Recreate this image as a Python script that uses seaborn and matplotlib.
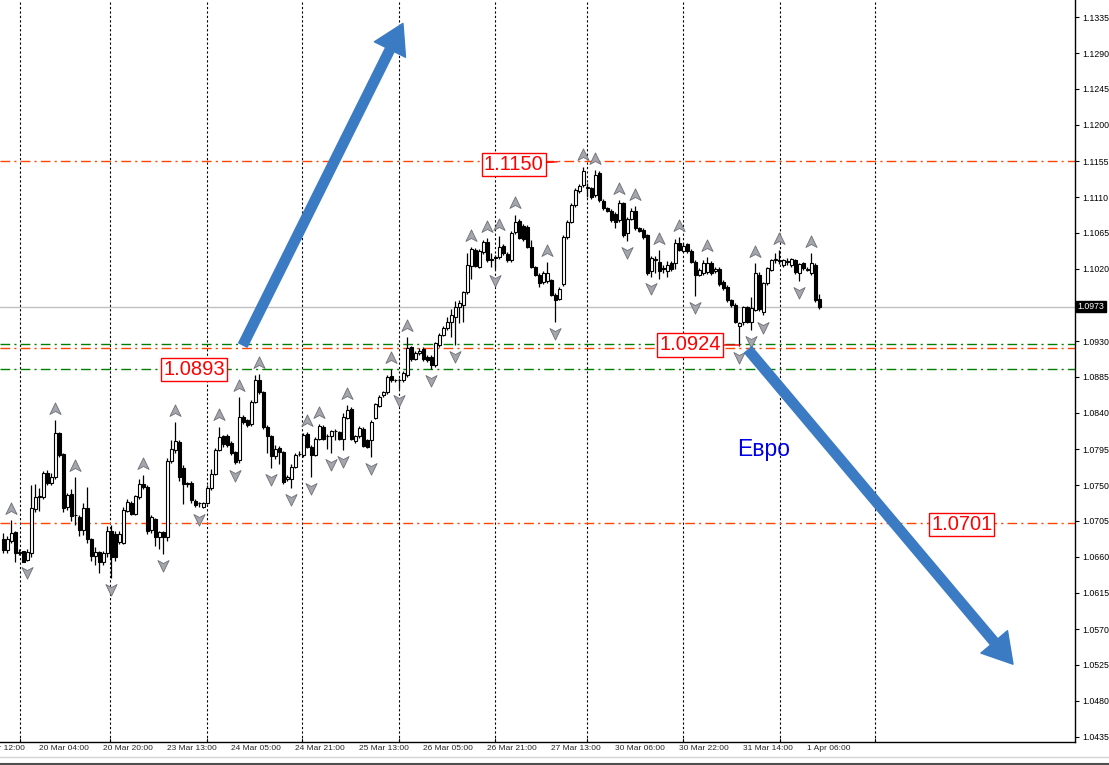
import numpy as np
import pandas as pd
import seaborn as sns
import matplotlib.pyplot as plt
from matplotlib.path import Path
from matplotlib import transforms
from matplotlib.lines import Line2D

# EURUSD H1 candles (bar 0 = left edge of the chart)
opens = [
    1.0683, 1.0669, 1.0680, 1.0691, 1.0665, 1.0667, 1.0656, 1.0665, 1.0720, 1.0735,
    1.0735, 1.0765, 1.0753, 1.0760, 1.0815, 1.0789, 1.0722, 1.0739, 1.0712, 1.0710,
    1.0694, 1.0721, 1.0682, 1.0661, 1.0666, 1.0654, 1.0665, 1.0693, 1.0689, 1.0679,
    1.0678, 1.0718, 1.0728, 1.0714, 1.0735, 1.0751, 1.0748, 1.0694, 1.0707, 1.0685,
    1.0691, 1.0685, 1.0780, 1.0794, 1.0804, 1.0771, 1.0751, 1.0753, 1.0730, 1.0727,
    1.0723, 1.0728, 1.0746, 1.0764, 1.0794, 1.0811, 1.0811, 1.0802, 1.0791, 1.0781,
    1.0835, 1.0831, 1.0826, 1.0854, 1.0881, 1.0866, 1.0823, 1.0811, 1.0786, 1.0796,
    1.0791, 1.0757, 1.0758, 1.0773, 1.0789, 1.0787, 1.0814, 1.0798, 1.0788, 1.0808,
    1.0823, 1.0811, 1.0811, 1.0817, 1.0816, 1.0808, 1.0834, 1.0845, 1.0805, 1.0811,
    1.0820, 1.0806, 1.0806, 1.0834, 1.0849, 1.0862, 1.0866, 1.0886, 1.0881, 1.0881,
    1.0881, 1.0887, 1.0922, 1.0908, 1.0915, 1.0920, 1.0910, 1.0910, 1.0900, 1.0925,
    1.0938, 1.0946, 1.0954, 1.0960, 1.0973, 1.0975, 1.0991, 1.1024, 1.1044, 1.1023,
    1.1041, 1.1054, 1.1031, 1.1035, 1.1035, 1.1049, 1.1039, 1.1031, 1.1066, 1.1080,
    1.1074, 1.1073, 1.1048, 1.1022, 1.1013, 1.1004, 1.1005, 1.1006, 1.0988, 1.0983,
    1.1001, 1.1060, 1.1079, 1.1100, 1.1117, 1.1125, 1.1121, 1.1121, 1.1112, 1.1140,
    1.1105, 1.1096, 1.1093, 1.1089, 1.1081, 1.1102, 1.1065, 1.1083, 1.1092, 1.1071,
    1.1069, 1.1062, 1.1017, 1.1031, 1.1029, 1.1021, 1.1018, 1.1028, 1.1027, 1.1053,
    1.1043, 1.1051, 1.1043, 1.1029, 1.1013, 1.1015, 1.1016, 1.1028, 1.1017, 1.1020,
    1.1004, 1.0998, 1.0981, 1.0975, 1.0949, 1.0954, 1.0972, 1.0954, 1.0969, 1.1013,
    1.0966, 1.1002, 1.1019, 1.1031, 1.1031, 1.1025, 1.1029, 1.1025, 1.1031, 1.1015,
    1.1027, 1.1019, 1.1015, 1.1025, 1.0983,
]
highs = [
    1.0690, 1.0686, 1.0706, 1.0693, 1.0670, 1.0668, 1.0670, 1.0750, 1.0751, 1.0746,
    1.0768, 1.0769, 1.0765, 1.0831, 1.0816, 1.0790, 1.0740, 1.0745, 1.0760, 1.0712,
    1.0728, 1.0748, 1.0684, 1.0672, 1.0668, 1.0668, 1.0699, 1.0700, 1.0692, 1.0692,
    1.0722, 1.0732, 1.0730, 1.0738, 1.0757, 1.0762, 1.0750, 1.0713, 1.0709, 1.0693,
    1.0693, 1.0784, 1.0806, 1.0829, 1.0806, 1.0775, 1.0754, 1.0755, 1.0733, 1.0729,
    1.0729, 1.0750, 1.0770, 1.0796, 1.0823, 1.0813, 1.0814, 1.0805, 1.0793, 1.0860,
    1.0838, 1.0833, 1.0856, 1.0887, 1.0889, 1.0868, 1.0825, 1.0813, 1.0800, 1.0799,
    1.0793, 1.0763, 1.0776, 1.0790, 1.0792, 1.0815, 1.0816, 1.0800, 1.0810, 1.0826,
    1.0825, 1.0814, 1.0819, 1.0820, 1.0818, 1.0840, 1.0850, 1.0847, 1.0813, 1.0824,
    1.0822, 1.0808, 1.0831, 1.0853, 1.0863, 1.0868, 1.0888, 1.0895, 1.0883, 1.0884,
    1.0892, 1.0935, 1.0924, 1.0917, 1.0921, 1.0922, 1.0912, 1.0912, 1.0929, 1.0940,
    1.0949, 1.0960, 1.0970, 1.0980, 1.0981, 1.0993, 1.1040, 1.1047, 1.1046, 1.1045,
    1.1056, 1.1059, 1.1040, 1.1038, 1.1061, 1.1051, 1.1041, 1.1067, 1.1088, 1.1082,
    1.1076, 1.1075, 1.1056, 1.1024, 1.1015, 1.1017, 1.1029, 1.1008, 1.0990, 1.0997,
    1.1062, 1.1081, 1.1102, 1.1121, 1.1126, 1.1148, 1.1128, 1.1123, 1.1144, 1.1142,
    1.1107, 1.1098, 1.1095, 1.1091, 1.1106, 1.1104, 1.1085, 1.1096, 1.1099, 1.1073,
    1.1071, 1.1064, 1.1036, 1.1036, 1.1044, 1.1025, 1.1030, 1.1030, 1.1058, 1.1060,
    1.1052, 1.1053, 1.1045, 1.1031, 1.1021, 1.1031, 1.1035, 1.1030, 1.1022, 1.1022,
    1.1006, 1.1000, 1.0983, 1.0977, 1.0954, 1.0974, 1.0974, 1.0985, 1.1027, 1.1016,
    1.1004, 1.1023, 1.1033, 1.1040, 1.1044, 1.1033, 1.1034, 1.1034, 1.1033, 1.1028,
    1.1029, 1.1022, 1.1040, 1.1027, 1.0989,
]
lows = [
    1.0665, 1.0665, 1.0678, 1.0654, 1.0662, 1.0658, 1.0655, 1.0660, 1.0716, 1.0717,
    1.0733, 1.0750, 1.0750, 1.0758, 1.0785, 1.0716, 1.0719, 1.0705, 1.0700, 1.0686,
    1.0688, 1.0677, 1.0655, 1.0650, 1.0640, 1.0650, 1.0660, 1.0634, 1.0655, 1.0676,
    1.0676, 1.0716, 1.0712, 1.0712, 1.0733, 1.0745, 1.0689, 1.0690, 1.0674, 1.0670,
    1.0664, 1.0680, 1.0777, 1.0790, 1.0755, 1.0726, 1.0748, 1.0727, 1.0723, 1.0722,
    1.0721, 1.0726, 1.0744, 1.0762, 1.0792, 1.0798, 1.0798, 1.0788, 1.0776, 1.0778,
    1.0826, 1.0823, 1.0824, 1.0852, 1.0864, 1.0820, 1.0790, 1.0771, 1.0783, 1.0776,
    1.0751, 1.0755, 1.0746, 1.0771, 1.0786, 1.0785, 1.0796, 1.0760, 1.0786, 1.0806,
    1.0806, 1.0795, 1.0790, 1.0806, 1.0806, 1.0794, 1.0832, 1.0806, 1.0803, 1.0809,
    1.0797, 1.0796, 1.0785, 1.0832, 1.0847, 1.0860, 1.0864, 1.0879, 1.0879, 1.0870,
    1.0879, 1.0885, 1.0905, 1.0906, 1.0913, 1.0905, 1.0904, 1.0895, 1.0898, 1.0923,
    1.0936, 1.0944, 1.0935, 1.0925, 1.0952, 1.0954, 1.0989, 1.1008, 1.1022, 1.1021,
    1.1039, 1.1029, 1.1023, 1.1020, 1.1033, 1.1038, 1.1029, 1.1029, 1.1064, 1.1057,
    1.1055, 1.1046, 1.1021, 1.1011, 1.0998, 1.1001, 1.1003, 1.0986, 1.0954, 1.0981,
    1.0999, 1.1058, 1.1077, 1.1098, 1.1115, 1.1123, 1.1110, 1.1108, 1.1110, 1.1104,
    1.1094, 1.1091, 1.1079, 1.1071, 1.1079, 1.1060, 1.1055, 1.1081, 1.1069, 1.1066,
    1.1058, 1.1013, 1.1010, 1.1015, 1.1008, 1.1015, 1.1010, 1.1017, 1.1020, 1.1042,
    1.1041, 1.1040, 1.1027, 1.0986, 1.1011, 1.1013, 1.1014, 1.1013, 1.1015, 1.0999,
    1.0994, 1.0979, 1.0973, 1.0952, 1.0924, 1.0950, 1.0952, 1.0944, 1.0967, 1.0968,
    1.0962, 1.1000, 1.1017, 1.1028, 1.1026, 1.1023, 1.1025, 1.1023, 1.1014, 1.1005,
    1.1019, 1.1017, 1.1013, 1.0979, 1.0970,
]
closes = [
    1.0669, 1.0682, 1.0690, 1.0665, 1.0666, 1.0654, 1.0666, 1.0721, 1.0735, 1.0736,
    1.0765, 1.0753, 1.0760, 1.0815, 1.0788, 1.0721, 1.0737, 1.0711, 1.0713, 1.0694,
    1.0721, 1.0683, 1.0661, 1.0666, 1.0654, 1.0665, 1.0693, 1.0660, 1.0660, 1.0689,
    1.0719, 1.0729, 1.0714, 1.0736, 1.0751, 1.0748, 1.0692, 1.0710, 1.0685, 1.0691,
    1.0685, 1.0780, 1.0795, 1.0805, 1.0760, 1.0751, 1.0752, 1.0731, 1.0725, 1.0727,
    1.0727, 1.0746, 1.0764, 1.0794, 1.0810, 1.0801, 1.0800, 1.0790, 1.0779, 1.0835,
    1.0829, 1.0825, 1.0854, 1.0881, 1.0866, 1.0822, 1.0811, 1.0786, 1.0795, 1.0791,
    1.0754, 1.0760, 1.0773, 1.0787, 1.0789, 1.0813, 1.0798, 1.0787, 1.0808, 1.0824,
    1.0808, 1.0811, 1.0817, 1.0817, 1.0808, 1.0835, 1.0844, 1.0808, 1.0811, 1.0821,
    1.0799, 1.0798, 1.0829, 1.0851, 1.0860, 1.0866, 1.0885, 1.0881, 1.0881, 1.0881,
    1.0890, 1.0921, 1.0907, 1.0915, 1.0918, 1.0907, 1.0906, 1.0900, 1.0927, 1.0938,
    1.0946, 1.0954, 1.0962, 1.0973, 1.0977, 1.0991, 1.1025, 1.1045, 1.1024, 1.1043,
    1.1054, 1.1031, 1.1032, 1.1034, 1.1048, 1.1040, 1.1031, 1.1065, 1.1079, 1.1059,
    1.1057, 1.1048, 1.1023, 1.1013, 1.1002, 1.1015, 1.1015, 1.0988, 1.0981, 1.0995,
    1.1060, 1.1079, 1.1100, 1.1119, 1.1124, 1.1142, 1.1122, 1.1110, 1.1137, 1.1106,
    1.1096, 1.1093, 1.1081, 1.1079, 1.1102, 1.1063, 1.1083, 1.1093, 1.1071, 1.1068,
    1.1060, 1.1015, 1.1034, 1.1032, 1.1017, 1.1020, 1.1025, 1.1020, 1.1053, 1.1044,
    1.1049, 1.1042, 1.1029, 1.1013, 1.1019, 1.1028, 1.1028, 1.1015, 1.1020, 1.1001,
    1.0996, 1.0981, 1.0975, 1.0954, 1.0952, 1.0972, 1.0954, 1.0971, 1.1015, 1.0970,
    1.1002, 1.1021, 1.1031, 1.1032, 1.1030, 1.1031, 1.1030, 1.1032, 1.1016, 1.1026,
    1.1021, 1.1020, 1.1027, 1.0981, 1.0972,
]

# Bill Williams fractals (bar numbers)
up_fractals = [2, 13, 18, 35, 43, 54, 59, 64, 76, 79, 86, 97, 101, 117, 121, 124,
               128, 136, 145, 148, 154, 158, 164, 169, 176, 188, 194, 202]
down_fractals = [6, 27, 40, 49, 58, 67, 72, 77, 82, 85, 92, 99, 107, 113, 123, 138,
                 156, 162, 173, 184, 187, 190, 199]

# time axis
x_label_bars = [-8, 8, 24, 40, 56, 72, 88, 104, 120, 136, 152, 168, 184, 200]
x_labels = ["19 Mar 12:00", "20 Mar 04:00", "20 Mar 20:00", "23 Mar 13:00",
            "24 Mar 05:00", "24 Mar 21:00", "25 Mar 13:00", "26 Mar 05:00",
            "26 Mar 21:00", "27 Mar 13:00", "30 Mar 06:00", "30 Mar 22:00",
            "31 Mar 14:00", "1 Apr 06:00"]
grid_bars = [4.2, 26.7, 50.9, 74.7, 98.9, 122.9, 145.9, 169.9, 194.2, 217.9]

# price axis
y_ticks = [1.0435, 1.0480, 1.0525, 1.0570, 1.0615, 1.0660, 1.0705, 1.0750, 1.0795,
           1.0840, 1.0885, 1.0930, 1.0975, 1.1020, 1.1065, 1.1110, 1.1155, 1.1200,
           1.1245, 1.1290, 1.1335]
y_tick_labels = ["1.0435", "1.0480", "1.0525", "1.0570", "1.0615", "1.0660", "1.0705",
                 "1.0750", "1.0795", "1.0840", "1.0885", "1.0930", "", "1.1020",
                 "1.1065", "1.1110", "1.1155", "1.1200", "1.1245", "1.1290", "1.1335"]

# horizontal levels
level_prices = [1.1155, 1.0926, 1.0921, 1.0895, 1.0702]
level_colors = ["#ff4500", "#008000", "#ff4500", "#008000", "#ff4500"]
current_price = 1.0973

# price tags: text, bar, price, anchor bar, anchor price
tag_texts = ["1.1150", "1.0893", "1.0924", "1.0701"]
tag_bars = [127.6, 47.7, 171.7, 239.6]
tag_prices = [1.1151, 1.0894, 1.0925, 1.0701]
tag_anchor_bars = [138.5, None, 184.0, None]
tag_anchor_prices = [1.1154, None, 1.0925, None]

# hand-drawn trend arrows: (start bar, start price, end bar, end price)
arrow_starts = [(59.9, 1.0925), (186.2, 1.0919)]
arrow_ends = [(99.9, 1.1327), (252.4, 1.0526)]

comment_text = "Евро"
comment_bar, comment_price = 190.0, 1.0794

df = pd.DataFrame({"open": opens, "high": highs, "low": lows, "close": closes})
df["bar"] = np.arange(len(df))
bull = df["close"] >= df["open"]

sns.set_style("white")
plt.rcParams["font.family"] = ["Liberation Sans", "DejaVu Sans"]

fig = plt.figure(figsize=(11.09, 7.65), dpi=100)
ax = fig.add_axes([0, 23 / 765, 1075 / 1109, 742 / 765])
ax.set_xlim(-0.825, 267.9)
ax.set_ylim(1.042875, 1.135625)

# grid (vertical only)
for gx in grid_bars:
    ax.axvline(gx, color="black", lw=0.8, ls=(0, (2, 2)), zorder=1)

# levels
for lp, lc in zip(level_prices, level_colors):
    ax.axhline(lp, color=lc, lw=1, ls=(0, (7, 3, 1.5, 3)), zorder=2)
ax.axhline(current_price, color="#c0c0c0", lw=1, zorder=2)

# candles
ax.vlines(df["bar"], df["low"], df["high"], color="black", lw=0.9, zorder=3)
ax.bar(df["bar"], df["close"] - df["open"], bottom=df["open"], width=0.62,
       color=np.where(bull, "white", "black"), edgecolor="black", lw=0.8, zorder=4)

# fractal arrows
up_path = Path([(0, 1), (0.85, -0.75), (0, -0.3), (-0.85, -0.75), (0, 1)],
               [Path.MOVETO, Path.LINETO, Path.LINETO, Path.LINETO, Path.CLOSEPOLY])
dn_path = Path([(0, -1), (0.85, 0.75), (0, 0.3), (-0.85, 0.75), (0, -1)],
               [Path.MOVETO, Path.LINETO, Path.LINETO, Path.LINETO, Path.CLOSEPOLY])
up_tr = transforms.offset_copy(ax.transData, fig=fig, y=8, units="points")
dn_tr = transforms.offset_copy(ax.transData, fig=fig, y=-8, units="points")
up_df = df.loc[up_fractals]
dn_df = df.loc[down_fractals]
sns.scatterplot(x=up_df["bar"], y=up_df["high"], marker=up_path, s=90, color="#a4a6ae",
                edgecolor="#6e6e74", linewidth=0.6, transform=up_tr, ax=ax, zorder=5,
                legend=False)
sns.scatterplot(x=dn_df["bar"], y=dn_df["low"], marker=dn_path, s=90, color="#a4a6ae",
                edgecolor="#6e6e74", linewidth=0.6, transform=dn_tr, ax=ax, zorder=5,
                legend=False)

# trend arrows
for (sx, sy), (ex, ey) in zip(arrow_starts, arrow_ends):
    ax.annotate("", xy=(ex, ey), xytext=(sx, sy), zorder=6,
                arrowprops=dict(arrowstyle="simple,head_length=2.1,head_width=2.5,tail_width=0.68",
                                mutation_scale=10, color="#3b7bc4", shrinkA=0, shrinkB=0))

# price tags
for t, tb, tp, ab, ap in zip(tag_texts, tag_bars, tag_prices, tag_anchor_bars, tag_anchor_prices):
    if ab is not None:
        ax.annotate(t, xy=(ab, ap), xytext=(tb, tp), ha="center", va="center",
                    fontsize=14.5, color="red", zorder=7,
                    bbox=dict(boxstyle="square,pad=0.1", fc="white", ec="red", lw=1),
                    arrowprops=dict(arrowstyle="-", color="red", lw=1, shrinkA=0, shrinkB=0))
    else:
        ax.text(tb, tp, t, ha="center", va="center", fontsize=14.5, color="red", zorder=7,
                bbox=dict(boxstyle="square,pad=0.1", fc="white", ec="red", lw=1))

ax.text(comment_bar, comment_price, comment_text, ha="center", va="center",
        fontsize=16.5, color="#0000e6", zorder=7)

# axes styling
for side in ["left", "top"]:
    ax.spines[side].set_visible(False)
for side in ["right", "bottom"]:
    ax.spines[side].set_color("black")
    ax.spines[side].set_linewidth(1)

ax.yaxis.tick_right()
ax.set_yticks(y_ticks)
ax.set_yticklabels(y_tick_labels)
ax.tick_params(axis="y", direction="out", length=3, width=0.8, labelsize=6.3, pad=2.5,
               colors="black")

ax.set_xticks([b for b in x_label_bars if b >= 0])
ax.set_xticklabels([])
ax.set_xticks(grid_bars, minor=True)
ax.tick_params(axis="x", which="major", direction="out", length=3, width=0.8)
ax.tick_params(axis="x", which="minor", direction="in", length=3, width=0.8, bottom=True)
for b, lab in zip(x_label_bars, x_labels):
    ax.annotate(lab, xy=(b, 0), xycoords=("data", "axes fraction"), xytext=(2.5, -2.5),
                textcoords="offset points", ha="left", va="top", fontsize=6.0,
                annotation_clip=False)

# current price tag on the scale
ax.annotate(f"{current_price:.4f}", xy=(1, current_price), xycoords=("axes fraction", "data"),
            xytext=(2, 0), textcoords="offset points", ha="left", va="center",
            fontsize=6.3, color="white", annotation_clip=False,
            bbox=dict(boxstyle="square,pad=0.15", fc="black", ec="black"))

ax.set_xlabel("")
ax.set_ylabel("")

# window frame at the bottom
fig.add_artist(Line2D([0, 1], [8 / 765, 8 / 765], color="#d4d4d4", lw=1))
fig.add_artist(Line2D([0, 1], [1 / 765, 1 / 765], color="#505050", lw=1.5))

fig.savefig("out.png", dpi=100)
